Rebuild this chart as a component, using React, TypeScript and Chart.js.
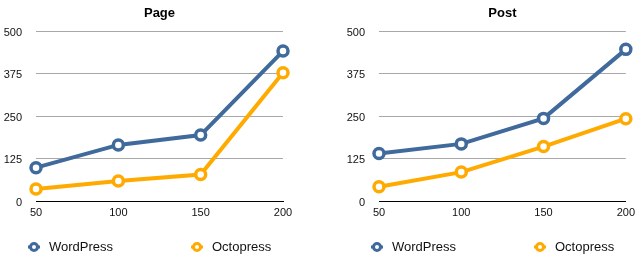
import React, { useEffect, useRef } from "react";
import { Chart, registerables } from "chart.js";

Chart.register(...registerables);

const xLabels = ["50", "100", "150", "200"];
const seriesNames = ["WordPress", "Octopress"];
const pageWordPress = [98, 165, 194, 441];
const pageOctopress = [35, 59, 78, 377];
const postWordPress = [140, 168, 243, 446];
const postOctopress = [42, 85, 160, 242];
const yMin = 0;
const yMax = 500;
const yStep = 125;

const BLUE = "#3f6a9b";
const ORANGE = "#ffaa00";
const FONT = "'Liberation Sans', Arial, Helvetica, sans-serif";

type Props = {
  title: string;
  wp: number[];
  oc: number[];
  left: number;
  axisWidth: number;
  padRight: number;
};

const titleLegendPlugin = {
  id: "titleLegend",
  afterDraw(chart: any, _args: any, opts: any) {
    const { ctx, chartArea } = chart;
    ctx.save();
    ctx.fillStyle = "#000";
    ctx.font = `bold 13px ${FONT}`;
    ctx.textAlign = "center";
    ctx.textBaseline = "middle";
    ctx.fillText(opts.title, (chartArea.left + chartArea.right) / 2, 13);

    const y = 247;
    const starts = [chartArea.left - 2, chartArea.left + 161];
    chart.data.datasets.forEach((ds: any, i: number) => {
      const x = starts[i];
      ctx.strokeStyle = ds.borderColor;
      ctx.lineWidth = 3;
      ctx.beginPath();
      ctx.moveTo(x - 6, y);
      ctx.lineTo(x + 6, y);
      ctx.stroke();
      ctx.beginPath();
      ctx.arc(x, y, 3.5, 0, Math.PI * 2);
      ctx.fillStyle = "#fff";
      ctx.fill();
      ctx.lineWidth = 3;
      ctx.stroke();
      ctx.fillStyle = "#111";
      ctx.font = `13px ${FONT}`;
      ctx.textAlign = "left";
      ctx.textBaseline = "middle";
      ctx.fillText(ds.label, x + 15, y);
    });
    ctx.restore();
  },
};

function LineChart({ title, wp, oc, left, axisWidth, padRight }: Props) {
  const ref = useRef<HTMLCanvasElement>(null);
  useEffect(() => {
    if (!ref.current) return;
    const mk = (label: string, data: number[], color: string) => ({
      label,
      data,
      borderColor: color,
      backgroundColor: color,
      borderWidth: 4,
      pointRadius: 5,
      pointBorderWidth: 3.5,
      pointBackgroundColor: "#fff",
      pointBorderColor: color,
      tension: 0,
      clip: false as any,
    });
    const chart = new Chart(ref.current, {
      type: "line",
      data: {
        labels: xLabels,
        datasets: [mk(seriesNames[0], wp, BLUE), mk(seriesNames[1], oc, ORANGE)],
      },
      options: {
        animation: false,
        responsive: false,
        layout: { padding: { top: 31, left: 0, right: padRight, bottom: 39 } },
        plugins: {
          legend: { display: false },
          title: { display: false },
          tooltip: { enabled: false },
          titleLegend: { title } as any,
        } as any,
        scales: {
          x: {
            type: "category",
            offset: false,
            grid: { display: false, drawTicks: false },
            border: { display: true, color: "#000", width: 1 },
            ticks: {
              color: "#111",
              padding: 5,
              font: { family: FONT, size: 11 },
              maxRotation: 0,
            },
            afterFit: (s: any) => {
              s.height = 20;
            },
          },
          y: {
            min: yMin,
            max: yMax,
            grid: {
              drawTicks: false,
              color: (c: any) => (c.tick && c.tick.value === 0 ? "rgba(0,0,0,0)" : "#a8a8a8"),
              lineWidth: 1,
            },
            border: { display: false },
            ticks: {
              stepSize: yStep,
              color: "#111",
              padding: 14,
              labelOffset: 1.5,
              font: { family: FONT, size: 11 },
            },
            afterFit: (s: any) => {
              s.width = axisWidth;
            },
          },
        },
      },
      plugins: [titleLegendPlugin],
    });
    return () => chart.destroy();
  }, []);
  return (
    <canvas
      ref={ref}
      width={320}
      height={260}
      style={{ position: "absolute", left, top: 0, width: 320, height: 260, display: "block" }}
    />
  );
}

export default function App() {
  return (
    <div style={{ position: "absolute", left: 0, top: 0, width: 640, height: 260, background: "#fff" }}>
      <LineChart title="Page" wp={pageWordPress} oc={pageOctopress} left={0} axisWidth={36} padRight={37} />
      <LineChart title="Post" wp={postWordPress} oc={postOctopress} left={320} axisWidth={59} padRight={14} />
    </div>
  );
}
